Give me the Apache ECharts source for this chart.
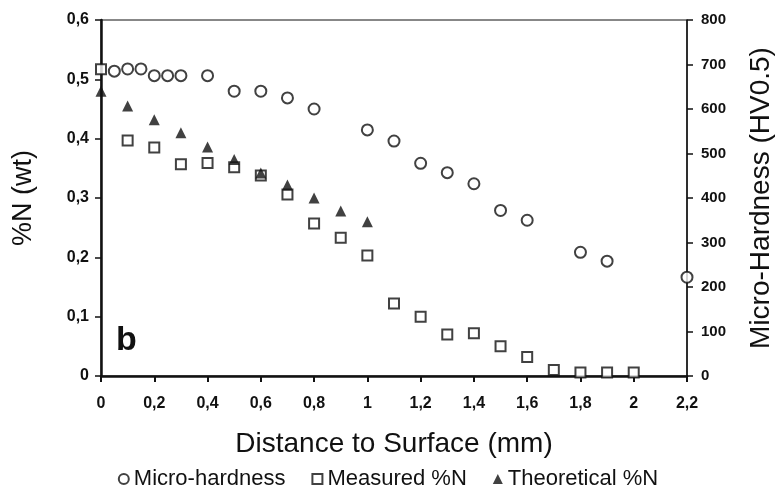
<!DOCTYPE html>
<html>
<head>
<meta charset="utf-8">
<title>Micro-hardness and %N vs distance</title>
<script src="https://cdn.jsdelivr.net/npm/echarts@6/dist/echarts.min.js"></script>
<style>
  html, body { margin: 0; padding: 0; background: #fff; }
  #chart { width: 776px; height: 497px; }
</style>
</head>
<body>
<div id="chart"></div>
<script>
// 数据：距表面距离 (mm) 与各测量值
var hardnessX = [0.05, 0.1, 0.15, 0.2, 0.25, 0.3, 0.4, 0.5, 0.6, 0.7, 0.8, 1.0, 1.1, 1.2, 1.3, 1.4, 1.5, 1.6, 1.8, 1.9, 2.2];
var hardnessY = [685, 690, 690, 675, 675, 675, 675, 640, 640, 625, 600, 553, 528, 478, 457, 432, 372, 350, 278, 258, 222];

var measuredX = [0, 0.1, 0.2, 0.3, 0.4, 0.5, 0.6, 0.7, 0.8, 0.9, 1.0, 1.1, 1.2, 1.3, 1.4, 1.5, 1.6, 1.7, 1.8, 1.9, 2.0];
var measuredY = [0.517, 0.397, 0.385, 0.357, 0.359, 0.352, 0.338, 0.306, 0.257, 0.233, 0.203, 0.122, 0.100, 0.070, 0.072, 0.050, 0.032, 0.010, 0.006, 0.006, 0.006];

var theoreticalX = [0, 0.1, 0.2, 0.3, 0.4, 0.5, 0.6, 0.7, 0.8, 0.9, 1.0];
var theoreticalY = [0.480, 0.455, 0.432, 0.410, 0.386, 0.365, 0.342, 0.322, 0.300, 0.278, 0.260];

var seriesNames = ['Micro-hardness', 'Measured %N', 'Theoretical %N'];

function pairs (xs, ys) {
    return xs.map(function (x, i) { return [x, ys[i]]; });
}

// 小数点用逗号
function commaFmt (v) {
    var r = Math.round(v * 10) / 10;
    return String(r).replace('.', ',');
}

var font = 'Liberation Sans, Arial, sans-serif';
var ink = '#111111';

var myChart = echarts.init(document.getElementById('chart'));
var option = {
    animation: false,
    backgroundColor: '#fff',
    textStyle: { fontFamily: font, color: ink },
    grid: {
        left: 101, right: 89, top: 20, bottom: 121,
        outerBoundsMode: 'none',
        show: true, borderColor: ink, borderWidth: 1, backgroundColor: 'transparent'
    },
    legend: {
        bottom: 2,
        left: 'center',
        itemWidth: 10,
        itemHeight: 10,
        itemGap: 26,
        textStyle: { fontFamily: font, fontSize: 22, color: ink },
        data: seriesNames
    },
    xAxis: {
        type: 'value',
        min: 0, max: 2.2, interval: 0.2,
        name: 'Distance to Surface (mm)',
        nameLocation: 'middle',
        nameGap: 54,
        nameTextStyle: { fontSize: 28, color: ink, fontFamily: font },
        axisLine: { show: true, onZero: false, lineStyle: { color: '#111111', width: 2.5 } },
        axisTick: { show: true, length: 6, lineStyle: { color: '#111111', width: 2 } },
        axisLabel: { fontSize: 16, fontWeight: 'bold', color: ink, margin: 20, formatter: commaFmt },
        splitLine: { show: false }
    },
    yAxis: [
        {
            type: 'value',
            position: 'left',
            min: 0, max: 0.6, interval: 0.1,
            name: '%N (wt)',
            nameLocation: 'middle',
            nameGap: 64,
            nameTextStyle: { fontSize: 27, color: ink, fontFamily: font },
            axisLine: { show: true, onZero: false, lineStyle: { color: '#111111', width: 2.5 } },
            axisTick: { show: true, length: 6, lineStyle: { color: '#111111', width: 1.5 } },
            axisLabel: { fontSize: 16, fontWeight: 'bold', color: ink, margin: 12, formatter: commaFmt },
            splitLine: { show: false }
        },
        {
            type: 'value',
            position: 'right',
            min: 0, max: 800, interval: 100,
            name: 'Micro-Hardness (HV0.5)',
            nameLocation: 'middle',
            nameGap: 60,
            nameTextStyle: { fontSize: 28, color: ink, fontFamily: font },
            axisLine: { show: true, onZero: false, lineStyle: { color: '#111111', width: 1.5 } },
            axisTick: { show: true, length: 6, lineStyle: { color: '#111111', width: 1.5 } },
            axisLabel: { fontSize: 15, fontWeight: 'bold', color: ink, margin: 14 },
            splitLine: { show: false }
        }
    ],
    series: [
        {
            name: seriesNames[0],
            type: 'scatter',
            yAxisIndex: 1,
            symbol: 'circle',
            symbolSize: 11,
            clip: false,
            itemStyle: { color: '#fff', borderColor: ink, borderWidth: 2 },
            data: pairs(hardnessX, hardnessY)
        },
        {
            name: seriesNames[1],
            type: 'scatter',
            yAxisIndex: 0,
            symbol: 'rect',
            symbolSize: 10,
            clip: false,
            itemStyle: { color: '#fff', borderColor: ink, borderWidth: 2 },
            data: pairs(measuredX, measuredY)
        },
        {
            name: seriesNames[2],
            type: 'scatter',
            yAxisIndex: 0,
            symbol: 'triangle',
            symbolSize: 11,
            clip: false,
            itemStyle: { color: ink },
            data: pairs(theoreticalX, theoreticalY)
        }
    ],
    graphic: [
        {
            type: 'text',
            left: 116,
            top: 324,
            style: { text: 'b', font: 'bold 34px ' + font, fill: ink }
        }
    ]
};
myChart.setOption(option);
</script>
</body>
</html>
